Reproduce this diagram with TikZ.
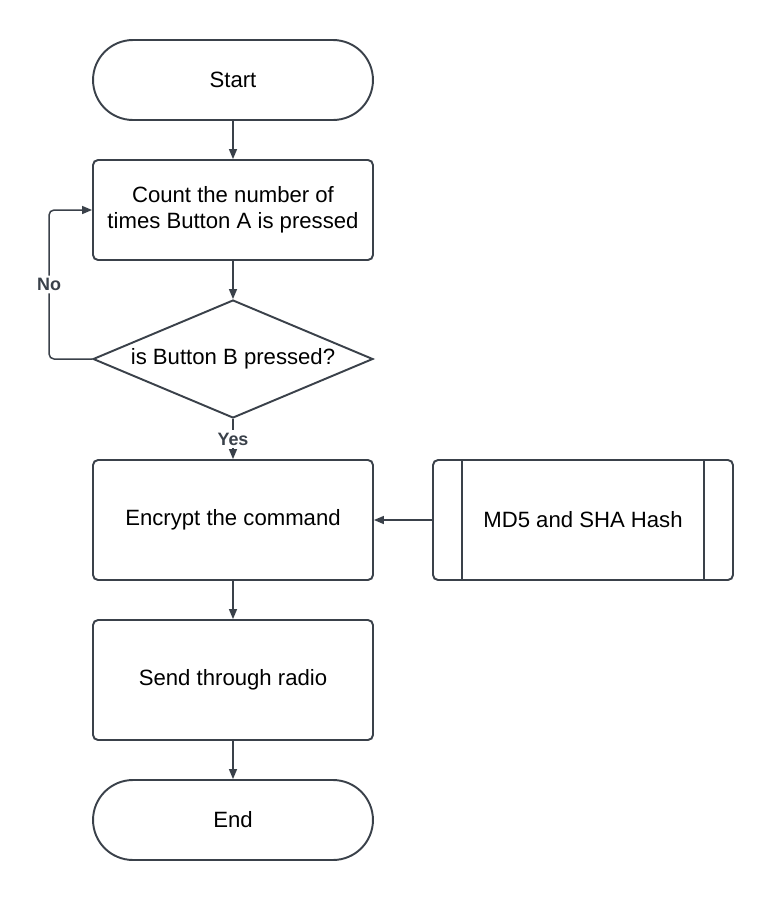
\documentclass[tikz,border=0pt]{standalone}
\usepackage{fontspec}
\setmainfont{Liberation Sans}
\usetikzlibrary{shapes.geometric,arrows.meta}

\definecolor{edge}{HTML}{3A414A}

\begin{document}
\begin{tikzpicture}[x=0.02cm, y=-0.02cm,
    every node/.style={font=\fontsize{12.6}{14.8}\selectfont, text=black, align=center},
    terminal/.style={draw=edge, line width=1.1pt, rounded corners=0.8cm,
                     minimum width=5.6cm, minimum height=1.6cm},
    process/.style={draw=edge, line width=1.1pt, rounded corners=0.1cm,
                    minimum width=5.6cm, minimum height=2.4cm},
    decision/.style={draw=edge, line width=1.1pt, diamond, aspect=2.4, inner sep=0pt,
                     minimum width=5.6cm, minimum height=2.36cm},
    arrow/.style={draw=edge, line width=0.85pt, -{Triangle[length=2mm, width=1.6mm]}},
    lbl/.style={font=\fontsize{10.2}{12}\selectfont\bfseries, text=edge, fill=white, inner sep=1.5pt}]

  % page frame
  \useasboundingbox (0,0) rectangle (773,900);

  % main column
  \node[terminal] (start) at (233,80) {Start};
  \node[process, minimum height=2cm] (count) at (233,210)
    {Count the number of\\times Button A is pressed};
  \node[decision] (check) at (233,359) {is Button B pressed?};
  \node[process] (encrypt) at (233,520) {Encrypt the command};
  \node[process] (radio) at (233,680) {Send through radio};
  \node[terminal] (end) at (233,820) {End};

  % predefined process on the right
  \node[process, minimum width=6cm] (hash) at (583,520) {MD5 and SHA Hash};
  \draw[edge, line width=1.1pt] ([xshift=0.6cm]hash.north west) -- ([xshift=0.6cm]hash.south west);
  \draw[edge, line width=1.1pt] ([xshift=-0.6cm]hash.north east) -- ([xshift=-0.6cm]hash.south east);

  % connectors
  \draw[arrow] (start) -- (count);
  \draw[arrow] (count) -- (check);
  \draw[arrow, rounded corners=0.1cm] (check.west) -- ++(-43,0) |- node[lbl, pos=0.25] {No} (count.west);
  \draw[arrow] (check.south) -- node[lbl] {Yes} (encrypt.north);
  \draw[arrow] (hash.west) -- (encrypt.east);
  \draw[arrow] (encrypt) -- (radio);
  \draw[arrow] (radio) -- (end);

\end{tikzpicture}
\end{document}
